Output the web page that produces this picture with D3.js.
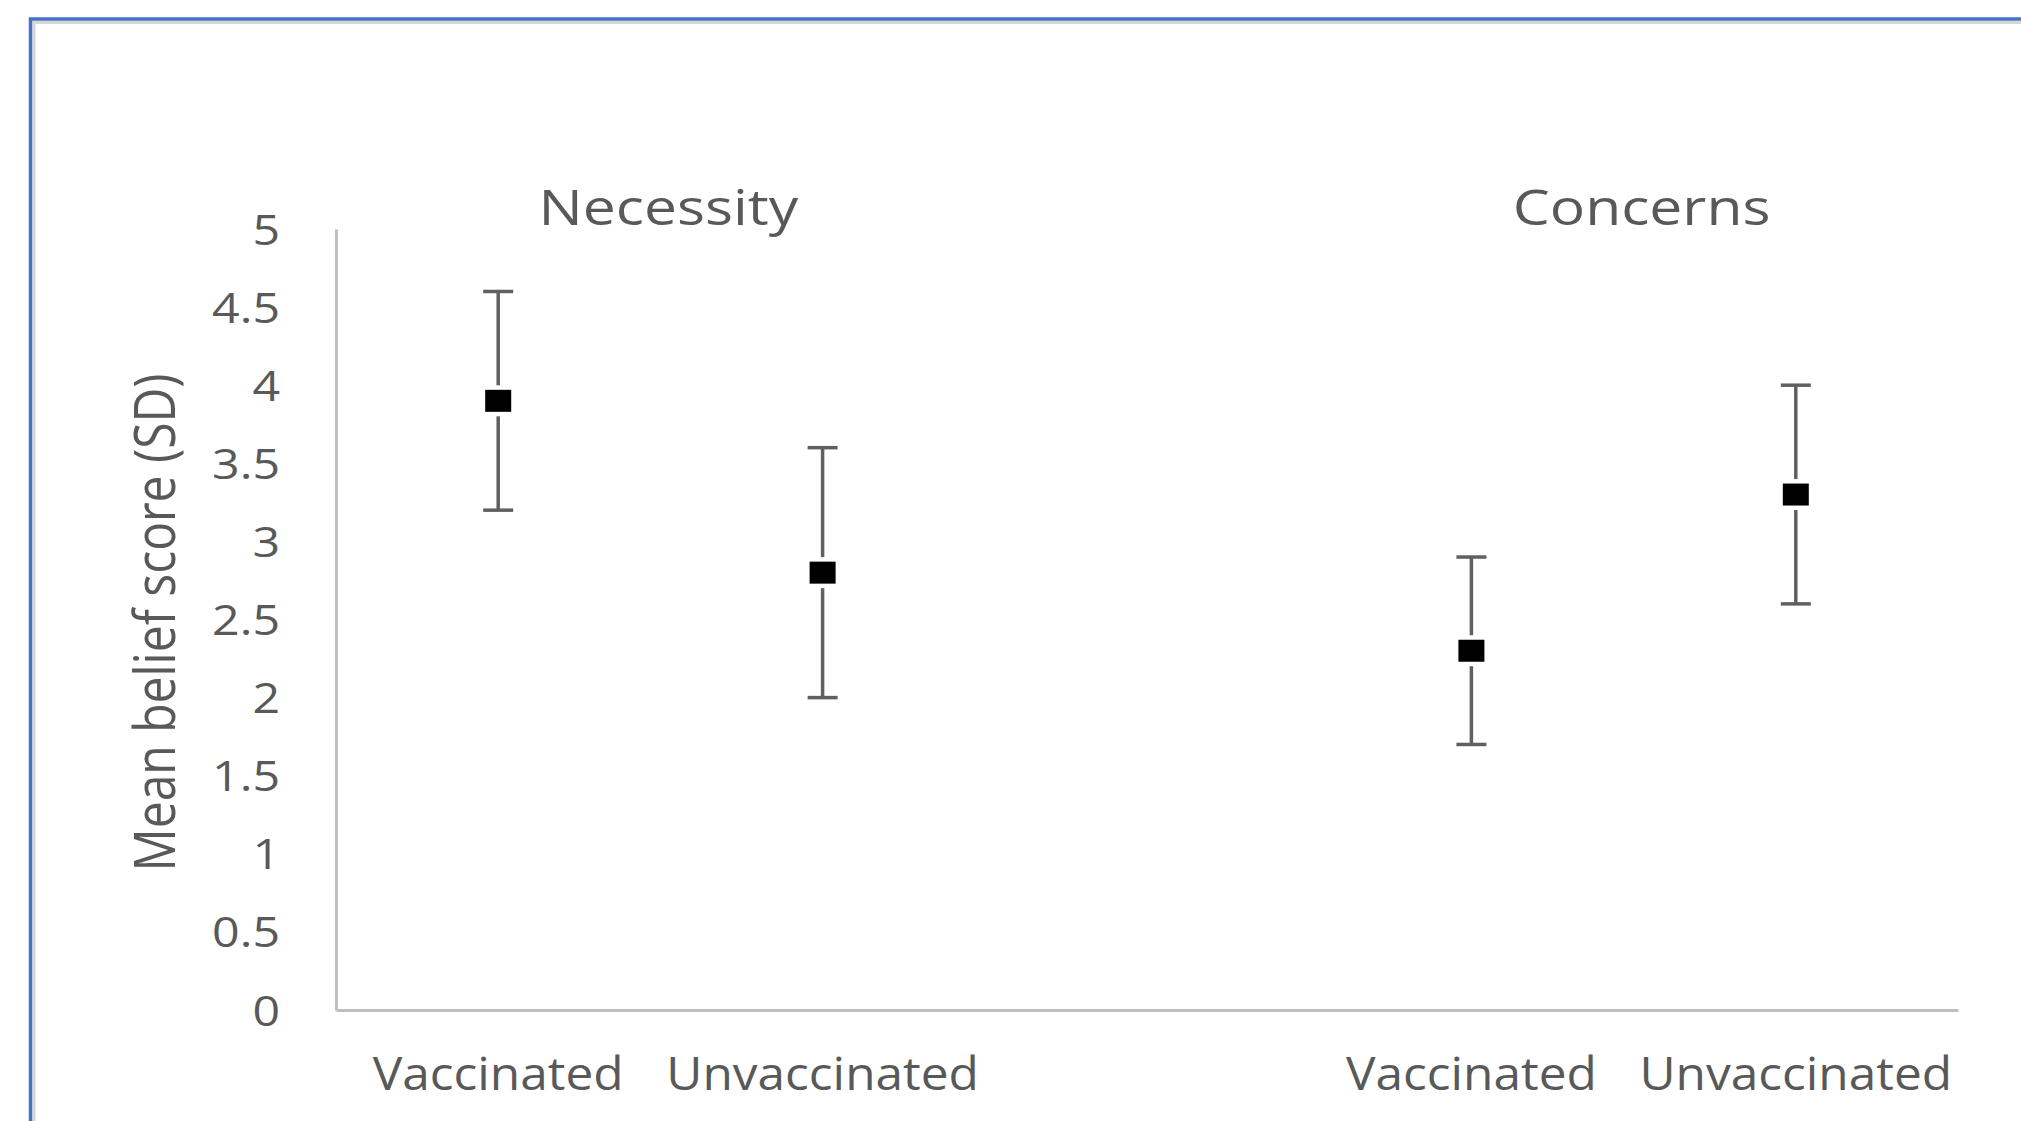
<!DOCTYPE html>
<html>
<head>
<meta charset="utf-8">
<script src="https://cdn.jsdelivr.net/npm/d3@7"></script>
<style>
  body { margin: 0; background: #fff; }
  text { font-family: "Open Sans", sans-serif; fill: #595959; }
</style>
</head>
<body>
<div class="box"></div>
<script>
// DATA
// five slots on the x axis, the middle one is left empty as a gap between groups
const slots = ['necVac', 'necUnvac', 'gap', 'conVac', 'conUnvac'];
const slotLabels = ['Vaccinated', 'Unvaccinated', '', 'Vaccinated', 'Unvaccinated'];
const groupNames = ['Necessity', 'Concerns'];
const groupSlots = [['necVac', 'necUnvac'], ['conVac', 'conUnvac']];
const pointSlots = ['necVac', 'necUnvac', 'conVac', 'conUnvac'];
const means = [3.9, 2.8, 2.3, 3.3];
const sds = [0.7, 0.8, 0.6, 0.7];
const yTicks = [0, 0.5, 1, 1.5, 2, 2.5, 3, 3.5, 4, 4.5, 5];
const yTitle = 'Mean belief score (SD)';

// SETUP
const width = 2021, height = 1121;
const margin = {top: 229, right: 63, bottom: 111, left: 336};
const graphWidth = width - margin.left - margin.right;
const graphHeight = height - margin.top - margin.bottom;

const svg = d3.select('.box')
  .append('svg')
  .attr('width', width)
  .attr('height', height)
  .style('display', 'block');

// outer frame (blue border with a faint shadow inside)
svg.append('rect')
  .attr('x', 34).attr('y', 22.5)
  .attr('width', 2100).attr('height', 1200)
  .attr('fill', 'none')
  .attr('stroke', '#d6d6d6')
  .attr('stroke-width', 3);
svg.append('rect')
  .attr('x', 30.5).attr('y', 19)
  .attr('width', 2100).attr('height', 1200)
  .attr('fill', 'none')
  .attr('stroke', '#4472C4')
  .attr('stroke-width', 3.5);

const graph = svg.append('g')
  .attr('transform', `translate(${margin.left}, ${margin.top})`);

// scales
const x = d3.scaleBand()
  .domain(slots)
  .range([0, graphWidth])
  .padding(0);

const y = d3.scaleLinear()
  .domain([0, 5])
  .range([graphHeight, 0]);

// axes
const axisY = d3.axisLeft(y)
  .tickValues(yTicks)
  .tickSize(0)
  .tickSizeOuter(0)
  .tickFormat(d => String(d));

const axisX = d3.axisBottom(x)
  .tickSize(0)
  .tickSizeOuter(0)
  .tickFormat((d, i) => slotLabels[i]);

const gy = graph.append('g').call(axisY);
const gx = graph.append('g')
  .attr('transform', `translate(0, ${graphHeight})`)
  .call(axisX);

[gx, gy].forEach(g => {
  g.select('.domain').attr('stroke', '#bfbfbf').attr('stroke-width', 3);
  g.selectAll('text').attr('font-family', null);
});

// tick labels, slightly stretched sideways like the original
const tickScale = 1.15;
gy.selectAll('.tick text')
  .attr('font-size', 42)
  .attr('x', -56 / tickScale)
  .attr('dy', '0.357em')
  .attr('transform', `scale(${tickScale}, 1)`);

const labelScale = 1.09;
gx.selectAll('.tick text')
  .attr('font-size', 45.5)
  .attr('y', 80)
  .attr('dy', 0)
  .attr('transform', `scale(${labelScale}, 1)`);

// group titles above each pair
const titleScale = 1.2;
graph.selectAll('.group-title')
  .data(groupNames)
  .enter()
  .append('text')
  .attr('class', 'group-title')
  .attr('text-anchor', 'middle')
  .attr('font-size', 49)
  .attr('transform', (d, i) => {
    const cx = (x(groupSlots[i][0]) + x(groupSlots[i][1]) + x.bandwidth()) / 2 + 8;
    return `translate(${cx}, -4) scale(${titleScale}, 1)`;
  })
  .text(d => d);

// y axis title
svg.append('text')
  .attr('text-anchor', 'middle')
  .attr('font-size', 48)
  .attr('transform', `translate(175, ${margin.top + graphHeight / 2 + 3}) scale(1.17, 1) rotate(-90)`)
  .text(yTitle);

// points with +/- SD error bars
const points = pointSlots.map((s, i) => ({slot: s, mean: means[i], sd: sds[i]}));
const cx = d => x(d.slot) + x.bandwidth() / 2;
const capHalf = 15;

const bars = graph.selectAll('.err')
  .data(points)
  .enter()
  .append('g')
  .attr('class', 'err')
  .attr('stroke', '#606060')
  .attr('stroke-width', 3.5);

bars.append('line')
  .attr('x1', cx).attr('x2', cx)
  .attr('y1', d => y(d.mean + d.sd))
  .attr('y2', d => y(d.mean - d.sd));
bars.append('line')
  .attr('x1', d => cx(d) - capHalf).attr('x2', d => cx(d) + capHalf)
  .attr('y1', d => y(d.mean + d.sd)).attr('y2', d => y(d.mean + d.sd));
bars.append('line')
  .attr('x1', d => cx(d) - capHalf).attr('x2', d => cx(d) + capHalf)
  .attr('y1', d => y(d.mean - d.sd)).attr('y2', d => y(d.mean - d.sd));

// square markers with a white halo that cuts the bar
const mw = 26, mh = 22;
graph.selectAll('.marker')
  .data(points)
  .enter()
  .append('rect')
  .attr('class', 'marker')
  .attr('x', d => cx(d) - mw / 2)
  .attr('y', d => y(d.mean) - mh / 2)
  .attr('width', mw)
  .attr('height', mh)
  .attr('fill', '#000')
  .attr('stroke', '#fff')
  .attr('stroke-width', 9)
  .style('paint-order', 'stroke');
</script>
</body>
</html>
